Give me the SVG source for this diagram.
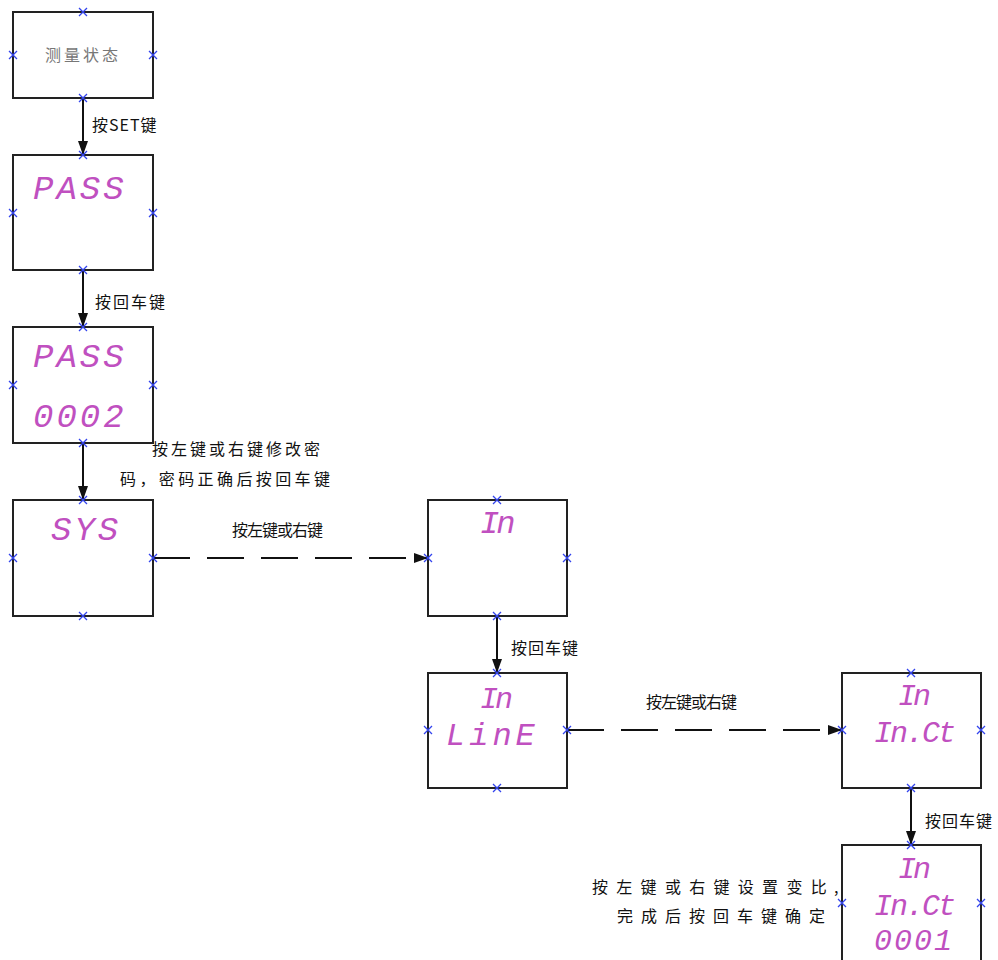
<svg xmlns="http://www.w3.org/2000/svg" width="998" height="960" viewBox="0 0 998 960">
<defs>
<style>
.box{fill:#fff;stroke:#222;stroke-width:2}
.seg{font-family:"Liberation Mono","DejaVu Sans Mono",monospace;font-style:italic;fill:#c050c0}
.lbl{font-family:"Noto Sans CJK SC","Noto Sans CJK TC",sans-serif;font-size:16px;fill:#111}
.ln{stroke:#111;stroke-width:2;fill:none}
.dash{stroke-dasharray:37 17}
.mk{stroke:#3344ee;stroke-width:1.3;fill:none}
</style>
<marker id="ahb" viewBox="0 0 14 10" refX="14" refY="5" markerWidth="14" markerHeight="10" markerUnits="userSpaceOnUse" orient="auto">
<path d="M0,0 L14,5 L0,10 z" fill="#111"/>
</marker>
<path id="x" class="mk" d="M-4,-4 L4,4 M-4,4 L4,-4"/>
</defs>
<rect width="998" height="960" fill="#fff"/>

<g id="connectors">
<path class="ln" d="M83,98 V155" marker-end="url(#ahb)"/>
<path class="ln" d="M83,270 V327" marker-end="url(#ahb)"/>
<path class="ln" d="M83,443 V500" marker-end="url(#ahb)"/>
<path class="ln dash" d="M153,558 H428" marker-end="url(#ahb)"/>
<path class="ln" d="M497,616 V673" marker-end="url(#ahb)"/>
<path class="ln dash" d="M567,730 H842" marker-end="url(#ahb)"/>
<path class="ln" d="M911,788 V845" marker-end="url(#ahb)"/>
<text class="lbl" x="92" y="131" letter-spacing="1">按SET键</text>
<text class="lbl" x="95" y="308" font-size="17" letter-spacing="2">按回车键</text>
<text class="lbl" x="152" y="455" letter-spacing="3">按左键或右键修改密</text>
<text class="lbl" x="120" y="485" letter-spacing="3.4">码，密码正确后按回车键</text>
<text class="lbl" x="232" y="536" letter-spacing="-1">按左键或右键</text>
<text class="lbl" x="511" y="654" font-size="17" letter-spacing="1">按回车键</text>
<text class="lbl" x="646" y="708" letter-spacing="-1">按左键或右键</text>
<text class="lbl" x="925" y="827" font-size="17" letter-spacing="1">按回车键</text>
<text class="lbl" x="592" y="893" letter-spacing="8.3">按左键或右键设置变比</text>
<text class="lbl" x="834" y="893" font-size="10">,</text>
<text class="lbl" x="617" y="922" letter-spacing="8">完成后按回车键确定</text>
</g>

<g id="n1">
<rect class="box" x="13" y="12" width="140" height="86"/>
<text x="83" y="61" text-anchor="middle" font-family="Noto Sans CJK SC,sans-serif" font-size="16" letter-spacing="3" fill="#777">测量状态</text>
<use href="#x" x="83" y="12"/><use href="#x" x="13" y="55"/><use href="#x" x="153" y="55"/><use href="#x" x="83" y="98"/>
</g>

<g id="n2">
<rect class="box" x="13" y="155" width="140" height="115"/>
<text class="seg" x="33" y="199" font-size="34" letter-spacing="3">PASS</text>
<use href="#x" x="83" y="155"/><use href="#x" x="13" y="213"/><use href="#x" x="153" y="213"/><use href="#x" x="83" y="270"/>
</g>

<g id="n3">
<rect class="box" x="13" y="327" width="140" height="116"/>
<text class="seg" x="33" y="367" font-size="34" letter-spacing="3">PASS</text>
<text class="seg" x="33" y="427" font-size="34" letter-spacing="3">0002</text>
<use href="#x" x="83" y="327"/><use href="#x" x="13" y="385"/><use href="#x" x="153" y="385"/><use href="#x" x="83" y="443"/>
</g>

<g id="n4">
<rect class="box" x="13" y="500" width="140" height="116"/>
<text class="seg" x="51" y="540" font-size="34" letter-spacing="3">SYS</text>
<use href="#x" x="83" y="500"/><use href="#x" x="13" y="558"/><use href="#x" x="153" y="558"/><use href="#x" x="83" y="616"/>
</g>

<g id="n5">
<rect class="box" x="428" y="500" width="139" height="116"/>
<text class="seg" x="480" y="533" font-size="32" letter-spacing="-3">In</text>
<use href="#x" x="497" y="500"/><use href="#x" x="428" y="558"/><use href="#x" x="567" y="558"/><use href="#x" x="497" y="616"/>
</g>

<g id="n6">
<rect class="box" x="428" y="673" width="139" height="115"/>
<text class="seg" x="480" y="708" font-size="30" letter-spacing="-3">In</text>
<text class="seg" x="446" y="745" font-size="32" letter-spacing="4">LinE</text>
<use href="#x" x="497" y="673"/><use href="#x" x="428" y="730"/><use href="#x" x="567" y="730"/><use href="#x" x="497" y="788"/>
</g>

<g id="n7">
<rect class="box" x="842" y="673" width="139" height="115"/>
<text class="seg" x="898" y="705" font-size="30" letter-spacing="-3">In</text>
<text class="seg" x="874" y="742" font-size="30" letter-spacing="-2">In.Ct</text>
<use href="#x" x="911" y="673"/><use href="#x" x="842" y="730"/><use href="#x" x="981" y="730"/><use href="#x" x="911" y="788"/>
</g>

<g id="n8">
<rect class="box" x="842" y="845" width="139" height="118"/>
<text class="seg" x="898" y="878" font-size="30" letter-spacing="-3">In</text>
<text class="seg" x="874" y="915" font-size="30" letter-spacing="-2">In.Ct</text>
<text class="seg" x="874" y="950" font-size="30" letter-spacing="2">0001</text>
<use href="#x" x="911" y="845"/><use href="#x" x="842" y="903"/><use href="#x" x="981" y="903"/>
</g>
</svg>
